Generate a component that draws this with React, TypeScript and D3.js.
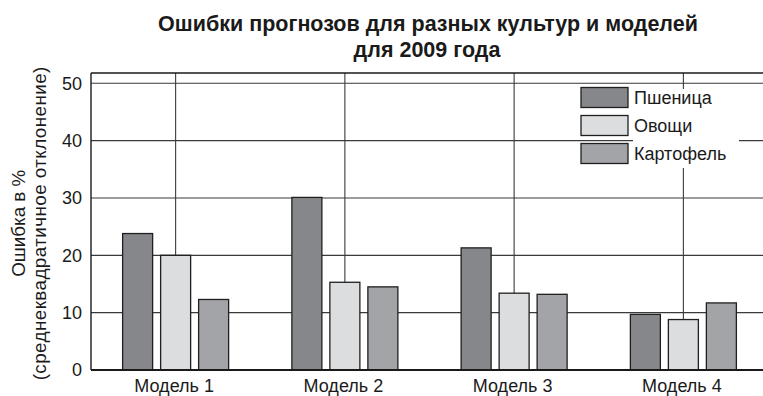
import React from "react";
import * as d3 from "d3";

// Forecast errors (RMSE, %) per model and crop, 2009
const models = ["Модель 1", "Модель 2", "Модель 3", "Модель 4"];
const crops = ["Пшеница", "Овощи", "Картофель"];
const wheat = [23.8, 30.1, 21.3, 9.7];
const vegetables = [20.0, 15.3, 13.4, 8.8];
const potatoes = [12.3, 14.5, 13.2, 11.7];
const yTicks = [0, 10, 20, 30, 40, 50];
const titleLines = ["Ошибки прогнозов для разных культур и моделей", "для 2009 года"];
const yTitleLines = ["Ошибка в %", "(среднеквадратичное отклонение)"];

const seriesValues = [wheat, vegetables, potatoes];
const fills = ["#86878a", "#dcdddf", "#a3a4a7"];

const W = 763;
const H = 396;
const FONT = "'Liberation Sans', Arial, sans-serif";

export default function App() {
  const left = 91;
  const right = 768;
  const top = 73;
  const bottom = 370;

  const x = d3.scaleBand<string>().domain(models).range([left, right]).padding(0);
  const groupW = 38 * 3 - 8;
  const inner = d3
    .scaleBand<string>()
    .domain(crops)
    .range([0, groupW])
    .paddingInner(8 / 38)
    .paddingOuter(0);
  const y = d3.scaleLinear().domain([0, 51.8]).range([bottom, top]);

  const gridColor = "#3a3a3a";
  const textColor = "#1a1a1a";

  return (
    <div style={{ position: "fixed", left: 0, top: 0 }}>
      <svg width={W} height={H} style={{ display: "block", background: "#fff" }}>
        {/* title */}
        <text x={428} y={30.5} textAnchor="middle" fontFamily={FONT} fontWeight="bold" fontSize={21.5} fill={textColor}>
          {titleLines[0]}
        </text>
        <text x={427} y={57} textAnchor="middle" fontFamily={FONT} fontWeight="bold" fontSize={21.5} fill={textColor}>
          {titleLines[1]}
        </text>

        {/* horizontal grid */}
        {yTicks.slice(1).map((t) => (
          <line key={"h" + t} x1={left} x2={right} y1={y(t)} y2={y(t)} stroke={gridColor} strokeWidth={1.1} />
        ))}
        {/* vertical grid at category centres */}
        {models.map((m) => {
          const cx = (x(m) as number) + x.bandwidth() / 2;
          return <line key={"v" + m} x1={cx} x2={cx} y1={top} y2={bottom} stroke={gridColor} strokeWidth={1.1} />;
        })}

        {/* frame */}
        <line x1={left} x2={right} y1={top} y2={top} stroke={textColor} strokeWidth={1.4} />
        <line x1={left} x2={left} y1={top} y2={bottom} stroke={textColor} strokeWidth={1.4} />

        {/* bars */}
        {models.map((m, i) => {
          const g0 = (x(m) as number) + x.bandwidth() / 2 - groupW / 2;
          return crops.map((c, j) => {
            const v = seriesValues[j][i];
            return (
              <rect
                key={m + c}
                x={g0 + (inner(c) as number)}
                y={y(v)}
                width={inner.bandwidth()}
                height={bottom - y(v)}
                fill={fills[j]}
                stroke="#1f1f1f"
                strokeWidth={1.3}
              />
            );
          });
        })}

        {/* baseline */}
        <line x1={left} x2={right} y1={bottom} y2={bottom} stroke={textColor} strokeWidth={1.8} />

        {/* y tick labels */}
        {yTicks.map((t) => (
          <text key={"yt" + t} x={82} y={y(t)} dy="0.36em" textAnchor="end" fontFamily={FONT} fontSize={18} fill={textColor}>
            {t}
          </text>
        ))}

        {/* x labels */}
        {models.map((m) => (
          <text
            key={"xl" + m}
            x={(x(m) as number) + x.bandwidth() / 2 - 1.5}
            y={392}
            textAnchor="middle"
            fontFamily={FONT}
            fontSize={18}
            fill={textColor}
          >
            {m}
          </text>
        ))}

        {/* y axis title */}
        {yTitleLines.map((s, k) => (
          <text
            key={"ytl" + k}
            transform={`translate(${25 + k * 21},223.3) rotate(-90)`}
            textAnchor="middle"
            fontFamily={FONT}
            fontSize={18.8}
            letterSpacing={k === 1 ? 0.45 : 0}
            fill={textColor}
          >
            {s}
          </text>
        ))}

        {/* legend */}
        <rect x={633} y={89} width={106} height={79} fill="#fff" />
        {crops.map((c, j) => {
          const ly = 87.5 + j * 28;
          return (
            <g key={"lg" + c}>
              <rect x={581} y={ly} width={47} height={20} fill={fills[j]} stroke="#1f1f1f" strokeWidth={1.3} />
              <text x={634} y={ly + 10} dy="0.36em" fontFamily={FONT} fontSize={18} fill={textColor}>
                {c}
              </text>
            </g>
          );
        })}
      </svg>
    </div>
  );
}
